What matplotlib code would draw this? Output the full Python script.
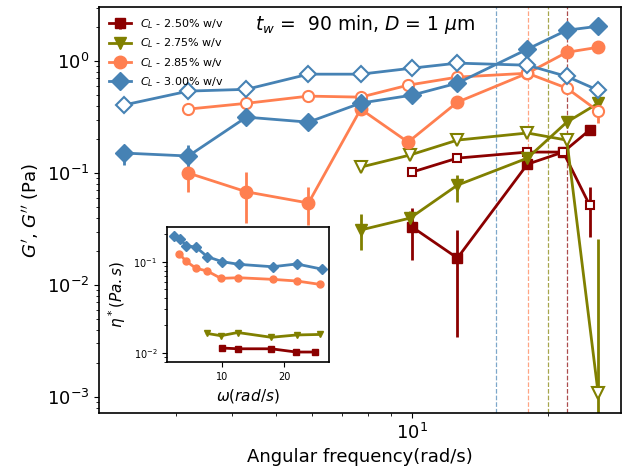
import numpy as np
import matplotlib
matplotlib.use("Agg")
import matplotlib.pyplot as plt

# frequencies (rad/s) for each concentration
w_250 = [10.0, 12.6, 18.0, 21.6, 24.7]
w_275 = [7.7, 9.9, 12.6, 18.0, 22.0, 25.8]
w_285 = [3.2, 4.3, 5.9, 7.7, 9.8, 12.6, 18.0, 22.0, 25.8]
w_300 = [2.3, 3.2, 4.3, 5.9, 7.7, 10.0, 12.6, 18.0, 22.0, 25.8]

# storage modulus G' (filled) and loss modulus G'' (open), Pa
Gp_250 = [0.033, 0.0174, 0.12, 0.154, 0.242]
Gpp_250 = [0.102, 0.136, 0.154, 0.154, 0.052]
Gp_275 = [0.031, 0.0396, 0.078, 0.136, 0.285, 0.42]
Gpp_275 = [0.113, 0.145, 0.197, 0.228, 0.197, 0.00109]
Gp_285 = [0.100, 0.068, 0.054, 0.373, 0.189, 0.43, 0.78, 1.20, 1.33]
Gpp_285 = [0.373, 0.42, 0.487, 0.477, 0.61, 0.72, 0.78, 0.574, 0.358]
Gp_300 = [0.151, 0.142, 0.316, 0.285, 0.422, 0.497, 0.636, 1.28, 1.89, 2.05]
Gpp_300 = [0.405, 0.54, 0.56, 0.765, 0.765, 0.866, 0.96, 0.92, 0.73, 0.55]

# error bar bounds (low, high); equal to the value where no bar is shown
Gp_250_lo = [0.0167, 0.0034, 0.12, 0.154, 0.242]
Gp_250_hi = [0.0488, 0.031, 0.12, 0.154, 0.242]
Gpp_250_lo = [0.102, 0.136, 0.154, 0.154, 0.027]
Gpp_250_hi = [0.102, 0.136, 0.154, 0.154, 0.075]
Gp_275_lo = [0.0205, 0.034, 0.055, 0.136, 0.285, 0.42]
Gp_275_hi = [0.0432, 0.046, 0.096, 0.136, 0.285, 0.42]
Gpp_275_lo = [0.113, 0.145, 0.197, 0.228, 0.197, 0.0001]
Gpp_275_hi = [0.113, 0.145, 0.197, 0.228, 0.197, 0.026]
Gp_285_lo = [0.068, 0.036, 0.034, 0.373, 0.189, 0.43, 0.78, 1.20, 1.33]
Gp_285_hi = [0.113, 0.102, 0.075, 0.373, 0.189, 0.43, 0.78, 1.20, 1.33]
Gpp_285_lo = [0.373, 0.42, 0.487, 0.477, 0.61, 0.72, 0.78, 0.574, 0.28]
Gpp_285_hi = [0.373, 0.42, 0.487, 0.477, 0.61, 0.72, 0.78, 0.574, 0.404]
Gp_300_lo = [0.118, 0.113, 0.316, 0.285, 0.422, 0.497, 0.636, 1.28, 1.89, 2.05]
Gp_300_hi = [0.178, 0.178, 0.316, 0.285, 0.422, 0.497, 0.636, 1.28, 1.89, 2.05]
Gpp_300_lo = [0.405, 0.54, 0.56, 0.765, 0.765, 0.866, 0.96, 0.92, 0.636, 0.449]
Gpp_300_hi = [0.405, 0.54, 0.56, 0.765, 0.765, 0.866, 0.96, 0.92, 0.866, 0.65]

# crossover frequencies
w_cross = [15.3, 18.06, 19.96, 22.0]

# complex viscosity for the inset
eta_w_250 = [10.0, 12.6, 17.9, 21.9, 24.9]
eta_250 = [0.01128, 0.01107, 0.01107, 0.0102, 0.0102]
eta_w_275 = [7.6, 9.8, 12.5, 17.9, 22.0, 25.7]
eta_275 = [0.0163, 0.0154, 0.0167, 0.0148, 0.0157, 0.0159]
eta_w_285 = [3.1, 4.2, 5.8, 7.6, 9.8, 12.6, 18.1, 22.0, 25.7]
eta_285 = [0.1216, 0.101, 0.0846, 0.079, 0.0656, 0.0667, 0.064, 0.0614, 0.0564]
eta_w_300 = [2.3, 3.2, 4.2, 5.8, 7.6, 10.0, 12.7, 18.1, 22.0, 26.0]
eta_300 = [0.193, 0.178, 0.150, 0.144, 0.1136, 0.100, 0.0935, 0.088, 0.0944, 0.083]

labels = ['$C_L$ - 2.50% w/v', '$C_L$ - 2.75% w/v',
          '$C_L$ - 2.85% w/v', '$C_L$ - 3.00% w/v']
colors = ['darkred', 'olive', 'coral', 'steelblue']
markers = ['s', 'v', 'o', 'D']
msize_f = [7, 9, 9, 9]
msize_o = [6, 8, 8, 8.5]

series = [
    (w_250, Gp_250, Gp_250_lo, Gp_250_hi, Gpp_250, Gpp_250_lo, Gpp_250_hi),
    (w_275, Gp_275, Gp_275_lo, Gp_275_hi, Gpp_275, Gpp_275_lo, Gpp_275_hi),
    (w_285, Gp_285, Gp_285_lo, Gp_285_hi, Gpp_285, Gpp_285_lo, Gpp_285_hi),
    (w_300, Gp_300, Gp_300_lo, Gp_300_hi, Gpp_300, Gpp_300_lo, Gpp_300_hi),
]
inset_data = [(eta_w_250, eta_250), (eta_w_275, eta_275),
              (eta_w_285, eta_285), (eta_w_300, eta_300)]

plt.rcParams['axes.linewidth'] = 1.2

fig = plt.figure(figsize=(6.35, 4.74), dpi=100)
ax = fig.add_axes([0.156, 0.129, 0.822, 0.856])

handles = []
for i, (w, gp, gp_lo, gp_hi, gpp, gpp_lo, gpp_hi) in enumerate(series):
    gp = np.array(gp)
    gpp = np.array(gpp)
    err_p = [gp - np.array(gp_lo), np.array(gp_hi) - gp]
    err_pp = [gpp - np.array(gpp_lo), np.array(gpp_hi) - gpp]
    h = ax.errorbar(w, gp, yerr=err_p, fmt='-' + markers[i], color=colors[i],
                    ms=msize_f[i], lw=2, elinewidth=2, capsize=0)
    ax.errorbar(w, gpp, yerr=err_pp, fmt='-' + markers[i], color=colors[i],
                ms=msize_o[i], mfc='white', mew=1.5, lw=2, elinewidth=2,
                capsize=0)
    handles.append(h)

for c, wc in zip(['steelblue', 'coral', 'olive', 'darkred'], w_cross):
    ax.axvline(wc, color=c, ls='--', lw=0.9, alpha=0.7)

ax.set_xscale('log')
ax.set_yscale('log')
ax.set_xlim(2.03, 29.0)
ax.set_ylim(7.2e-4, 3.04)
ax.tick_params(labelsize=13)
ax.set_xlabel('Angular frequency(rad/s)', fontsize=13)
ax.set_ylabel("$G'$, $G''$ (Pa)", fontsize=13)
ax.text(0.51, 0.956, r'$t_w$ =  90 min, $D$ = 1 $\mu$m', transform=ax.transAxes,
        ha='center', va='center', fontsize=13.5)
ax.legend(handles, labels, loc='upper left', frameon=False, fontsize=8)

# inset: complex viscosity
axin = fig.add_axes([0.263, 0.236, 0.255, 0.285])
for i, (w, eta) in enumerate(inset_data):
    axin.plot(w, eta, '-' + markers[i], color=colors[i], ms=5, lw=2)
axin.set_yscale('log')
axin.set_ylim(0.0079, 0.24)
axin.set_xticks([10, 20])
axin.tick_params(labelsize=7)
axin.set_xlabel(r'$\omega (rad/s)$', fontsize=11)
axin.set_ylabel(r'$\eta^* (Pa.s)$', fontsize=11)

plt.savefig('out.png', dpi=100)
